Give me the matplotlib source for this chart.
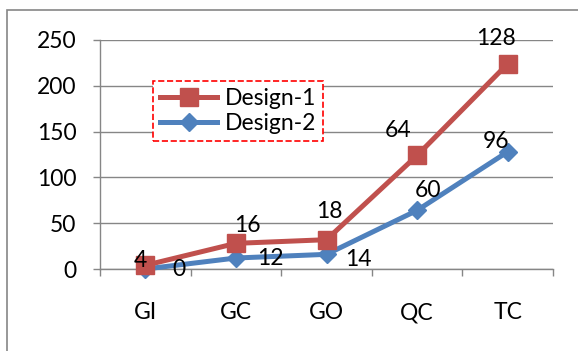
import matplotlib
matplotlib.use("Agg")
import matplotlib.pyplot as plt
from matplotlib.patches import Rectangle

plt.rcParams['font.family'] = ['Lato', 'DejaVu Sans']

categories = ['GI', 'GC', 'GO', 'QC', 'TC']
# plotted (cumulative) heights
design1 = [4, 28, 32, 124, 224]
design2 = [0, 12, 16, 64, 128]
# numbers shown as data labels
labels1 = [4, 16, 18, 64, 128]
labels2 = [0, 12, 14, 60, 96]
yticks = [0, 50, 100, 150, 200, 250]

# label offsets in pixels
off1 = [(-5, 5), (12, 18), (3, 28), (-19, 25), (-12, 25)]
off2 = [(34, -1), (34, 0), (32, -5), (11, 20), (-12, 10)]

RED = '#C0504D'
BLUE = '#4F81BD'
GRAY = '#868686'
FS = 16.5

fig = plt.figure(figsize=(5.78, 3.51), dpi=100)
fig.patches.append(Rectangle((7 / 578, -0.1), 1.2, 1.1 - 10 / 351,
                             transform=fig.transFigure, fill=False,
                             edgecolor=GRAY, linewidth=1.2))

ax = fig.add_axes([100 / 578, 1 - 269 / 351, 453 / 578, 229 / 351])
x = list(range(len(categories)))

l2, = ax.plot(x, design2, color=BLUE, lw=3.6, marker='D', ms=9,
              mec=BLUE, clip_on=False, zorder=3, label='Design-2')
l1, = ax.plot(x, design1, color=RED, lw=3.6, marker='s', ms=13,
              mec=RED, clip_on=False, zorder=4, label='Design-1')

for i in x:
    ax.annotate(str(labels1[i]), (i, design1[i]), xytext=off1[i],
                textcoords='offset pixels', ha='center', va='center',
                fontsize=FS, zorder=5)
    ax.annotate(str(labels2[i]), (i, design2[i]), xytext=off2[i],
                textcoords='offset pixels', ha='center', va='center',
                fontsize=FS, zorder=5)

ax.set_xlim(-0.5, 4.5)
ax.set_ylim(0, 250)
ax.set_yticks(yticks)
ax.set_xticks([i - 0.5 for i in range(len(categories) + 1)])
ax.set_xticklabels([])
ax.set_xticks(x, minor=True)
ax.set_xticklabels(categories, minor=True)
ax.tick_params(axis='x', which='major', length=5, color=GRAY, width=1)
ax.tick_params(axis='x', which='minor', length=0, pad=24, labelsize=FS)
ax.tick_params(axis='y', length=5, color=GRAY, width=1, pad=12, labelsize=FS)
ax.grid(axis='y', color=GRAY, lw=1)
ax.set_axisbelow(True)
for s in ['top', 'right']:
    ax.spines[s].set_visible(False)
for s in ['left', 'bottom']:
    ax.spines[s].set_color(GRAY)
    ax.spines[s].set_linewidth(1)

leg = ax.legend([l1, l2], ['Design-1', 'Design-2'], loc='upper left',
                bbox_to_anchor=(0.117, 0.821), borderaxespad=0,
                fontsize=FS, fancybox=False, handlelength=2.5,
                handletextpad=0.35, labelspacing=0.2, borderpad=0.3,
                framealpha=1)
frame = leg.get_frame()
frame.set_edgecolor('#FF0000')
frame.set_linestyle('--')
frame.set_linewidth(1.2)

fig.savefig('out.png', dpi=100)
